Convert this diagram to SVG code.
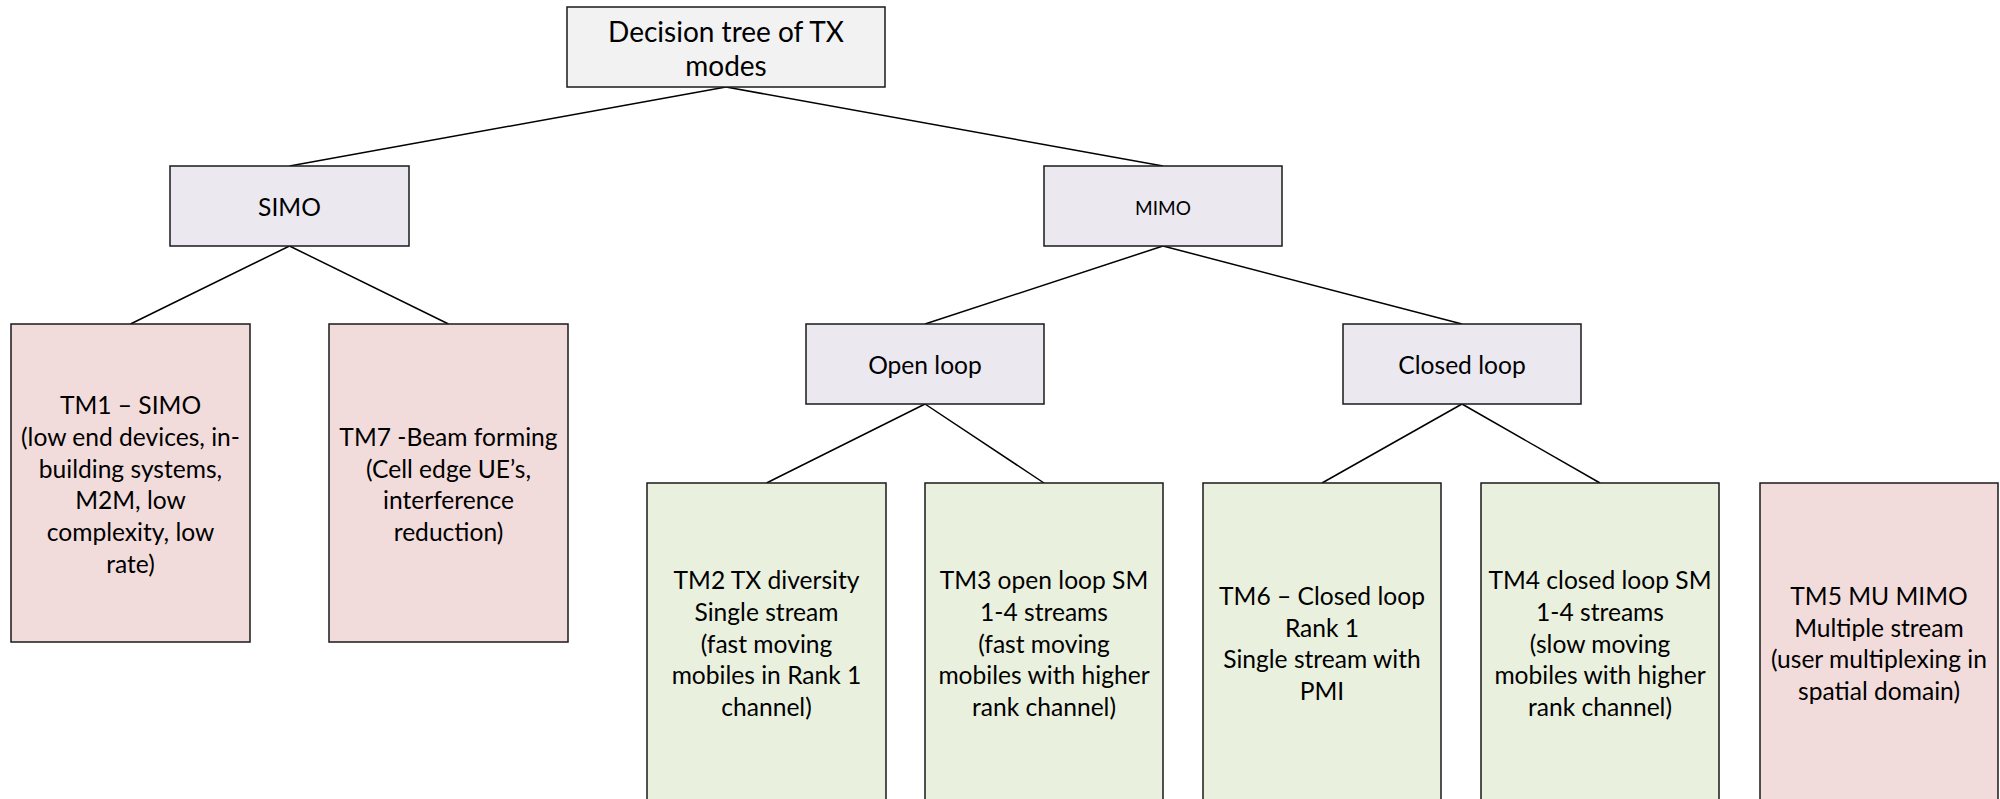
<svg xmlns="http://www.w3.org/2000/svg" width="2000" height="799" viewBox="0 0 2000 799">
<style>
  .box { stroke: #1a1a1a; stroke-width: 1.5; }
  .title { fill: #f2f2f2; }
  .mid { fill: #ebe8f0; }
  .pink { fill: #f2dcdb; }
  .green { fill: #eaf0de; }
  text { font-family: Lato, "Liberation Sans", sans-serif; font-size: 24.6px; fill: #000; text-anchor: middle; }
  .small { font-size: 19px; }
  .big { font-size: 28px; }
  .conn line { stroke: #000; stroke-width: 1.5; }
</style>
<rect width="2000" height="799" fill="#ffffff"/>
<g class="conn" id="connectors">
  <line x1="726" y1="87" x2="289.5" y2="166"/>
  <line x1="726" y1="87" x2="1163" y2="166"/>
  <line x1="289.5" y1="246" x2="130.5" y2="324"/>
  <line x1="289.5" y1="246" x2="448.5" y2="324"/>
  <line x1="1163" y1="246" x2="925" y2="324"/>
  <line x1="1163" y1="246" x2="1462" y2="324"/>
  <line x1="925" y1="404" x2="766.5" y2="483"/>
  <line x1="925" y1="404" x2="1044" y2="483"/>
  <line x1="1462" y1="404" x2="1322" y2="483"/>
  <line x1="1462" y1="404" x2="1600" y2="483"/>
</g>
<g id="root">
  <rect class="box title" x="567" y="7" width="318" height="80"/>
  <text x="726" y="41.5" class="big">Decision tree of TX</text>
  <text x="726" y="75.5" class="big">modes</text>
</g>
<g id="simo">
  <rect class="box mid" x="170" y="166" width="239" height="80"/>
  <text x="289.5" y="216">SIMO</text>
</g>
<g id="mimo">
  <rect class="box mid" x="1044" y="166" width="238" height="80"/>
  <text x="1163" y="214.5" class="small">MIMO</text>
</g>
<g id="openloop">
  <rect class="box mid" x="806" y="324" width="238" height="80"/>
  <text x="925" y="374">Open loop</text>
</g>
<g id="closedloop">
  <rect class="box mid" x="1343" y="324" width="238" height="80"/>
  <text x="1462" y="374">Closed loop</text>
</g>
<g id="tm1">
  <rect class="box pink" x="11" y="324" width="239" height="318"/>
  <text x="130.5" y="414">TM1 – SIMO</text>
  <text x="130.5" y="446">(low end devices, in-</text>
  <text x="130.5" y="477.5">building systems,</text>
  <text x="130.5" y="509">M2M, low</text>
  <text x="130.5" y="541">complexity, low</text>
  <text x="130.5" y="572.5">rate)</text>
</g>
<g id="tm7">
  <rect class="box pink" x="329" y="324" width="239" height="318"/>
  <text x="448.5" y="446">TM7 -Beam forming</text>
  <text x="448.5" y="477.5">(Cell edge UE’s,</text>
  <text x="448.5" y="509">interference</text>
  <text x="448.5" y="541">reduction)</text>
</g>
<g id="tm2">
  <rect class="box green" x="647" y="483" width="239" height="320"/>
  <text x="766.5" y="589">TM2 TX diversity</text>
  <text x="766.5" y="621">Single stream</text>
  <text x="766.5" y="652.5">(fast moving</text>
  <text x="766.5" y="684">mobiles in Rank 1</text>
  <text x="766.5" y="716">channel)</text>
</g>
<g id="tm3">
  <rect class="box green" x="925" y="483" width="238" height="320"/>
  <text x="1044" y="589">TM3 open loop SM</text>
  <text x="1044" y="621">1-4 streams</text>
  <text x="1044" y="652.5">(fast moving</text>
  <text x="1044" y="684">mobiles with higher</text>
  <text x="1044" y="716">rank channel)</text>
</g>
<g id="tm6">
  <rect class="box green" x="1203" y="483" width="238" height="320"/>
  <text x="1322" y="605">TM6 – Closed loop</text>
  <text x="1322" y="637">Rank 1</text>
  <text x="1322" y="668">Single stream with</text>
  <text x="1322" y="700">PMI</text>
</g>
<g id="tm4">
  <rect class="box green" x="1481" y="483" width="238" height="320"/>
  <text x="1600" y="589">TM4 closed loop SM</text>
  <text x="1600" y="621">1-4 streams</text>
  <text x="1600" y="652.5">(slow moving</text>
  <text x="1600" y="684">mobiles with higher</text>
  <text x="1600" y="716">rank channel)</text>
</g>
<g id="tm5">
  <rect class="box pink" x="1760" y="483" width="238" height="320"/>
  <text x="1879" y="605">TM5 MU MIMO</text>
  <text x="1879" y="637">Multiple stream</text>
  <text x="1879" y="668">(user multiplexing in</text>
  <text x="1879" y="700">spatial domain)</text>
</g>
</svg>
